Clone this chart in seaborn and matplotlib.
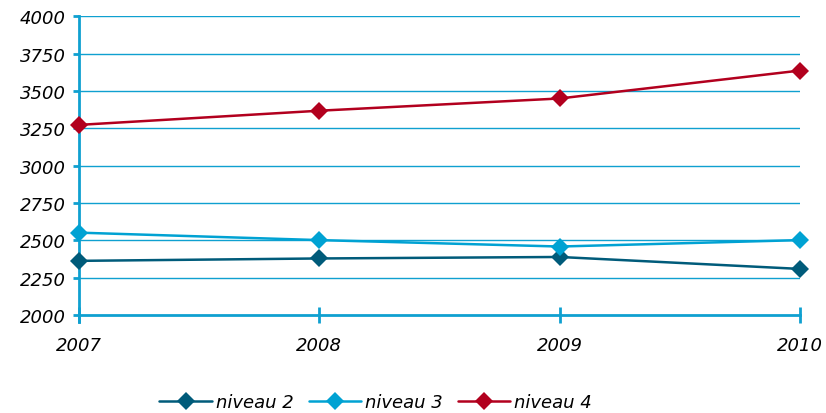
import pandas as pd
import numpy as np
import matplotlib.pyplot as plt
import seaborn as sns

# données
annees = [2007, 2008, 2009, 2010]
niveau_2 = [2362, 2378, 2388, 2308]
niveau_3 = [2551, 2501, 2458, 2501]
niveau_4 = [3273, 3368, 3450, 3637]
series = ['niveau 2', 'niveau 3', 'niveau 4']
couleurs = ['#005B7A', '#00A2D3', '#B2001E']
yticks = [2000, 2250, 2500, 2750, 3000, 3250, 3500, 3750, 4000]

df = pd.DataFrame({
    'annee': annees * 3,
    'valeur': niveau_2 + niveau_3 + niveau_4,
    'serie': [s for s in series for _ in annees],
})

sns.set_style('white')
plt.rcParams['font.family'] = ['DejaVu Sans']
plt.rcParams['text.color'] = 'black'
plt.rcParams['xtick.color'] = 'black'
plt.rcParams['ytick.color'] = 'black'

bleu = '#0FA0D0'

fig, ax = plt.subplots(figsize=(8.26, 4.14), dpi=100)
fig.subplots_adjust(left=0.0956, right=0.9685, top=0.958, bottom=0.237)

sns.lineplot(data=df, x='annee', y='valeur', hue='serie', palette=couleurs,
             marker='D', markersize=9.5, markeredgewidth=0, linewidth=1.8,
             ax=ax, legend=True, zorder=3, clip_on=False)

ax.set_xlim(2007, 2010)
ax.set_ylim(2000, 4000)
ax.set_yticks(yticks)
ax.set_xticks(annees)
ax.set_xticklabels([str(a) for a in annees], fontstyle='italic', fontsize=13, color='black')
ax.set_yticklabels([str(v) for v in yticks], fontstyle='italic', fontsize=13, color='black')
ax.set_xlabel('')
ax.set_ylabel('')

for y in yticks[1:]:
    ax.axhline(y, color=bleu, linewidth=1.0, zorder=1)

for s in ['top', 'right']:
    ax.spines[s].set_visible(False)
ax.spines['left'].set_color(bleu)
ax.spines['left'].set_linewidth(2)
ax.spines['bottom'].set_color(bleu)
ax.spines['bottom'].set_linewidth(2)
ax.spines['left'].set_bounds(1950, 4000)

ax.tick_params(axis='y', left=True, direction='out', length=4.5, width=2,
               color=bleu, pad=5)
ax.tick_params(axis='x', bottom=True, direction='inout', length=11, width=2,
               color=bleu, pad=10)

leg = ax.legend(loc='center', bbox_to_anchor=(0.455, 0.026),
                bbox_transform=fig.transFigure, ncol=3,
                frameon=False, handlelength=2.9, columnspacing=0.8,
                handletextpad=0.25, prop={'style': 'italic', 'size': 13})

fig.savefig('out.png', dpi=100)
